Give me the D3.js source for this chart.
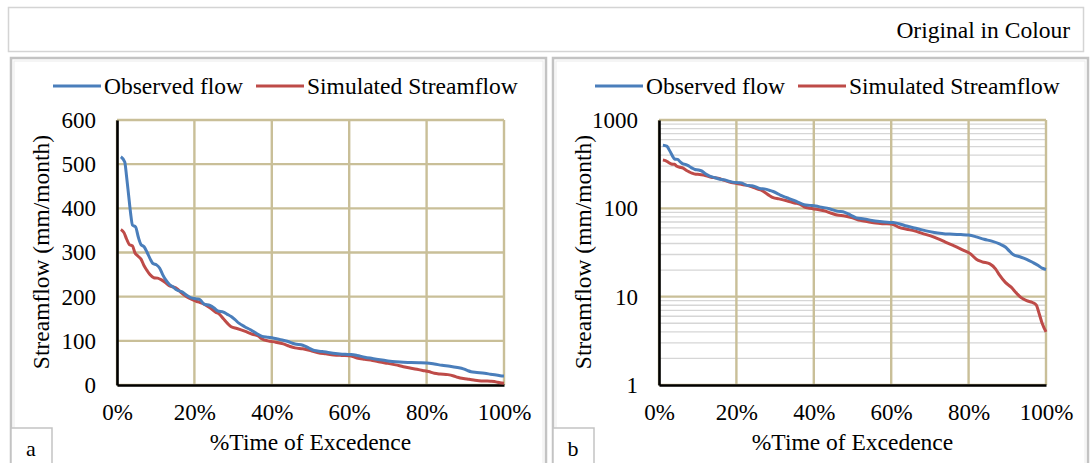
<!DOCTYPE html>
<html>
<head>
<meta charset="utf-8">
<script src="https://cdn.jsdelivr.net/npm/d3@7"></script>
<style>
  body { margin: 0; background: #fff; }
  text { font-family: "Liberation Serif", "Times New Roman", serif; fill: #000; }
</style>
</head>
<body>
<script>
// flow duration data
var obsPct  = [1, 2, 2.5, 3, 3.5, 4, 4.8, 5.5, 6.2, 7, 7.8, 8.6, 9.3, 10.2, 11, 11.8, 12.6, 13.5, 14.5, 15.5, 17, 18, 19, 20.5, 21.5, 22.5, 24, 25, 26, 27.5, 28.5, 29.5, 30.5, 31.5, 33, 34.5, 36, 37.5, 39, 40.5, 42, 44, 46, 48, 49.5, 51, 53, 55, 57, 59, 60.5, 62, 64, 66, 68, 70, 72, 74, 76, 78, 80, 82, 84, 86, 88, 89.5, 90.5, 91.5, 93, 95, 96.5, 98, 99, 100];
var obsFlow = [517, 505, 470, 430, 390, 362, 358, 335, 318, 313, 300, 285, 275, 272, 265, 250, 238, 228, 222, 215, 210, 203, 198, 195, 193, 183, 180, 175, 168, 165, 160, 155, 148, 140, 132, 125, 117, 110, 108, 106, 103, 99, 93, 90, 84, 78, 76, 73, 71, 69.5, 69, 67, 63, 60, 57, 54.5, 52.5, 51.3, 51, 50.5, 49.8, 47.5, 44.6, 42.5, 39.5, 36.5, 33, 30, 28.5, 26.5, 24.5, 22.5, 21, 20.3];

var simPct  = [1, 1.8, 2.5, 3.2, 4, 4.6, 5.4, 6.2, 7, 7.7, 8.5, 9.5, 10.5, 11.5, 12.5, 13.5, 14.5, 15.5, 16.5, 18, 19.5, 21, 22.5, 24, 25.5, 26.5, 27.5, 28.5, 29.5, 31, 33, 35, 36.5, 37.5, 39, 41, 43, 44.5, 46, 48, 50, 52, 54, 56, 58, 60, 62, 64, 66, 68, 70, 72, 74, 76, 77.5, 79, 80.5, 82, 83.5, 85.5, 87, 88, 89.5, 91, 92.5, 93.5, 95, 96.5, 97.5, 98.2, 99, 100];
var simFlow = [352, 345, 330, 318, 315, 300, 292, 285, 270, 260, 250, 243, 242, 238, 232, 225, 222, 218, 210, 200, 193, 188, 183, 175, 165, 160, 150, 140, 132, 128, 122, 115, 111, 104, 100, 97, 93, 88, 84, 82, 78, 73, 70.5, 68, 67, 66.5, 61, 58, 55.5, 52, 49, 45.5, 41.5, 38, 35.5, 33, 30.5, 26.5, 24.8, 23.5, 20.5, 17.5, 14.5, 12.8, 10.8, 9.8, 9, 8.6, 8, 6.5, 5, 4];

var xTicks   = [0, 20, 40, 60, 80, 100];
var linTicks = [0, 100, 200, 300, 400, 500, 600];
var logTicks = [1, 10, 100, 1000];

var seriesNames  = ["Observed flow", "Simulated Streamflow"];
var seriesColors = ["#4a7ebb", "#be4b48"];

var W = 1091, H = 463;
var svg = d3.select("body").append("svg")
    .attr("width", W)
    .attr("height", H);

// top caption box
svg.append("rect")
    .attr("x", 8.5).attr("y", 7.5).attr("width", 1075).attr("height", 44)
    .attr("fill", "none").attr("stroke", "#d4d4d4").attr("stroke-width", 1.5);
svg.append("text")
    .attr("x", 1070).attr("y", 38)
    .attr("text-anchor", "end")
    .style("font-size", "23.5px")
    .text("Original in Colour");

function drawPanel(left, isLog, label) {
    var g = svg.append("g").attr("transform", "translate(" + left + ",0)");

    // panel frame
    g.append("rect")
        .attr("x", 11).attr("y", 58).attr("width", 535).attr("height", 420)
        .attr("fill", "none").attr("stroke", "#c3c3c3").attr("stroke-width", 2.5);
    g.append("rect")
        .attr("x", 14).attr("y", 61).attr("width", 529).attr("height", 414)
        .attr("fill", "none").attr("stroke", "#ececec").attr("stroke-width", 1);

    var x = d3.scaleLinear().domain([0, 100]).range([117, 504]);
    var y = isLog
        ? d3.scaleLog().domain([1, 1000]).range([385, 120])
        : d3.scaleLinear().domain([0, 600]).range([385, 120]);

    // minor gridlines for log axis
    if (isLog) {
        var minor = [];
        [1, 10, 100].forEach(function(d) {
            for (var k = 2; k <= 9; k++) minor.push(d * k);
        });
        g.selectAll(".minor").data(minor).enter().append("line")
            .attr("x1", x(0)).attr("x2", x(100))
            .attr("y1", function(d) { return y(d); })
            .attr("y2", function(d) { return y(d); })
            .attr("stroke", "#d6d6d6").attr("stroke-width", 1.3);
    }

    var yTicks = isLog ? logTicks : linTicks;

    // major gridlines
    g.selectAll(".hgrid").data(yTicks).enter().append("line")
        .attr("x1", x(0)).attr("x2", x(100))
        .attr("y1", function(d) { return y(d); })
        .attr("y2", function(d) { return y(d); })
        .attr("stroke", "#c9bf98").attr("stroke-width", 2.4);
    g.selectAll(".vgrid").data(xTicks).enter().append("line")
        .attr("x1", function(d) { return x(d); })
        .attr("x2", function(d) { return x(d); })
        .attr("y1", y.range()[1]).attr("y2", y.range()[0])
        .attr("stroke", "#c9bf98").attr("stroke-width", 2.4);

    // axes
    var yAxis = isLog
        ? d3.axisLeft(y).tickValues(yTicks).tickFormat(d3.format("d"))
        : d3.axisLeft(y).tickValues(yTicks);
    var ya = g.append("g").attr("transform", "translate(" + x(0) + ",0)")
        .call(yAxis.tickSize(0).tickPadding(21));
    var xa = g.append("g").attr("transform", "translate(0," + y.range()[0] + ")")
        .call(d3.axisBottom(x).tickValues(xTicks).tickSize(0).tickPadding(19)
            .tickFormat(function(d) { return d + "%"; }));
    [ya, xa].forEach(function(a) {
        a.select(".domain").attr("stroke", "#000").attr("stroke-width", 2.6);
        a.selectAll("text")
            .style("font-family", "'Liberation Serif', serif")
            .style("font-size", "23px").attr("fill", "#000");
    });

    // series
    var line = d3.line()
        .x(function(d) { return x(d[0]); })
        .y(function(d) { return y(d[1]); })
        .curve(d3.curveMonotoneX);
    var series = [d3.zip(obsPct, obsFlow), d3.zip(simPct, simFlow)];
    series.slice().reverse().forEach(function(s, i) {
        g.append("path")
            .datum(s)
            .attr("d", line)
            .attr("fill", "none")
            .attr("stroke", seriesColors[1 - i])
            .attr("stroke-width", 3)
            .attr("stroke-linejoin", "round");
    });

    // legend
    var legX = [53, 256];
    seriesNames.forEach(function(n, i) {
        g.append("line")
            .attr("x1", legX[i]).attr("x2", legX[i] + 48)
            .attr("y1", 86).attr("y2", 86)
            .attr("stroke", seriesColors[i]).attr("stroke-width", 3);
        g.append("text")
            .attr("x", legX[i] + 51).attr("y", 94)
            .style("font-size", "23.5px")
            .text(n);
    });

    // axis titles
    g.append("text")
        .attr("x", (x(0) + x(100)) / 2).attr("y", 450)
        .attr("text-anchor", "middle")
        .style("font-size", "23.5px")
        .text("%Time of Excedence");
    g.append("text")
        .attr("transform", "translate(49,252) rotate(-90)")
        .attr("text-anchor", "middle")
        .style("font-size", "23.5px")
        .text("Streamflow (mm/month)");

    // panel letter box
    g.append("rect")
        .attr("x", 11).attr("y", 428).attr("width", 41).attr("height", 50)
        .attr("fill", "#fff").attr("stroke", "#c3c3c3").attr("stroke-width", 1.5);
    g.append("text")
        .attr("x", 31).attr("y", 456)
        .attr("text-anchor", "middle")
        .style("font-size", "22px")
        .text(label);
}

drawPanel(0, false, "a");
drawPanel(542, true, "b");
</script>
</body>
</html>
